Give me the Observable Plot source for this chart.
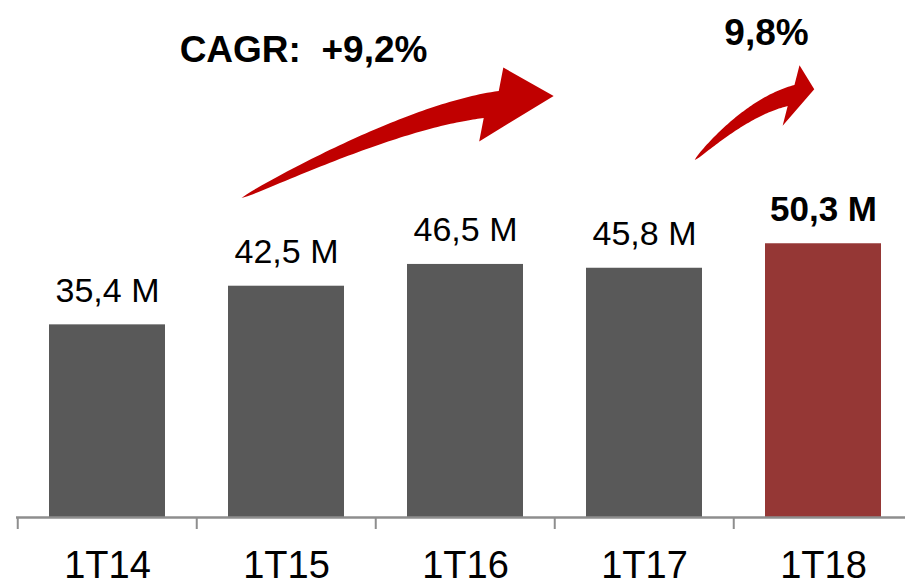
<!DOCTYPE html>
<html>
<head>
<meta charset="utf-8">
<script src="https://cdn.jsdelivr.net/npm/d3@7"></script>
<script src="https://cdn.jsdelivr.net/npm/@observablehq/plot@0.6"></script>
<style>
  body { margin: 0; background: #fff; }
</style>
</head>
<body>
<div id="chart"></div>
<script>
// Quarterly revenue, first quarter of each year (millions)
const periods = ["1T14", "1T15", "1T16", "1T17", "1T18"];
const revenue = [35.4, 42.5, 46.5, 45.8, 50.3];
const revenueLabels = ["35,4 M", "42,5 M", "46,5 M", "45,8 M", "50,3 M"];
const highlightPeriod = "1T18";

// Growth call-outs
const growthLabels = ["CAGR:\u00a0\u00a0+9,2%", "9,8%"];
const growthPeriods = ["1T15", "1T18"];
const growthLevels = [83.7, 86.9];

// Growth arrows: [position in bands from the left edge, value]
const arrowTails = [[1.26, 58.6], [3.792, 65.6]];
const arrowBends = [[2.169, 73.6], [4.087, 75.3]];
const arrowNecks = [[2.655, 75.8], [4.330, 77.45]];

// ---- styling ----
const barGray = "#595959";
const barRed = "#953735";
const arrowRed = "#c00000";
const axisGray = "#8e8e8e";
const font = "'Liberation Sans', Arial, Helvetica, sans-serif";
const arrowShapes = [
  {neck: 12.4, skew: 9.3, cornerA: 17, cornerB: 35, tip: 63},
  {neck: 9.3, skew: 6, cornerA: 16, cornerB: 27, tip: 24}
];

const xRange = [16, 913.5];
const step = (xRange[1] - xRange[0]) / periods.length;

const rows = periods.map((p, i) => ({period: p, value: revenue[i], label: revenueLabels[i]}));
const growth = growthLabels.map((t, i) => ({label: t, period: growthPeriods[i], level: growthLevels[i]}));

// Curved, tapering arrow along a quadratic spine T -> C -> N, with a head at N
function arrowPath(T, C, N, s) {
  const n = 60, upper = [], lower = [];
  let dEnd, nEnd;
  for (let k = 0; k <= n; k++) {
    const t = k / n, mt = 1 - t;
    const bx = mt * mt * T[0] + 2 * mt * t * C[0] + t * t * N[0];
    const by = mt * mt * T[1] + 2 * mt * t * C[1] + t * t * N[1];
    let dx = 2 * mt * (C[0] - T[0]) + 2 * t * (N[0] - C[0]);
    let dy = 2 * mt * (C[1] - T[1]) + 2 * t * (N[1] - C[1]);
    const len = Math.hypot(dx, dy); dx /= len; dy /= len;
    const nx = dy, ny = -dx;
    const h = s.neck * Math.pow(t, 0.6);
    const sk = s.skew * Math.pow(t, 6);
    upper.push([bx + h * nx + sk * dx, by + h * ny + sk * dy]);
    lower.push([bx - h * nx - sk * dx, by - h * ny - sk * dy]);
    if (k === n) { dEnd = [dx, dy]; nEnd = [nx, ny]; }
  }
  const at = (a, b) => [N[0] + a * dEnd[0] + b * nEnd[0], N[1] + a * dEnd[1] + b * nEnd[1]];
  const pts = [...upper, at(s.cornerA, s.cornerB), at(s.tip, 0), at(-s.cornerA, -s.cornerB), ...lower.reverse()];
  return "M" + pts.map(p => p[0].toFixed(2) + "," + p[1].toFixed(2)).join("L") + "Z";
}

function growthArrows(index, scales) {
  const x = scales.x, y = scales.y;
  const r0 = x.range()[0];
  const st = typeof x.step === "function" ? x.step() : step;
  const px = ([u, v]) => [r0 + u * st, y(v)];
  const g = d3.create("svg:g");
  arrowTails.forEach((tail, i) => {
    g.append("path")
      .attr("d", arrowPath(px(tail), px(arrowBends[i]), px(arrowNecks[i]), arrowShapes[i]))
      .attr("fill", arrowRed);
  });
  return g.node();
}

const chart = Plot.plot({
  width: 905,
  height: 585,
  marginTop: 0,
  marginBottom: 68,
  marginLeft: 16,
  marginRight: 0,
  style: {fontFamily: font, background: "#fff", overflow: "visible"},
  x: {domain: periods, range: xRange, paddingInner: 0.354, paddingOuter: 0.177},
  y: {domain: [0, 95], axis: null},
  marks: [
    Plot.barY(rows, {
      x: "period",
      y: "value",
      fill: d => d.period === highlightPeriod ? barRed : barGray
    }),
    Plot.ruleY([0], {stroke: axisGray, strokeWidth: 2.5}),
    Plot.axisX({tickSize: 12, tickFormat: () => "", dx: -step / 2, stroke: axisGray, strokeWidth: 2, label: null}),
    Plot.axisX({tickSize: 0, tickPadding: 34, fontSize: 38, fill: "#000", label: null}),
    Plot.text(rows.filter(d => d.period !== highlightPeriod), {
      x: "period", y: "value", text: "label",
      dy: -23, lineAnchor: "bottom", fontSize: 34, fill: "#000"
    }),
    Plot.text(rows.filter(d => d.period === highlightPeriod), {
      x: "period", y: "value", text: "label",
      dy: -23, lineAnchor: "bottom", fontSize: 35, fontWeight: "bold", fill: "#000"
    }),
    growthArrows,
    Plot.text([growth[0]], {
      x: "period", y: "level", text: "label",
      dx: 17, lineAnchor: "bottom", fontSize: 37, fontWeight: "bold", fill: "#000"
    }),
    Plot.text([growth[1]], {
      x: "period", y: "level", text: "label",
      dx: -57, lineAnchor: "bottom", fontSize: 37, fontWeight: "bold", fill: "#000"
    })
  ]
});

document.getElementById("chart").appendChild(chart);
</script>
</body>
</html>
